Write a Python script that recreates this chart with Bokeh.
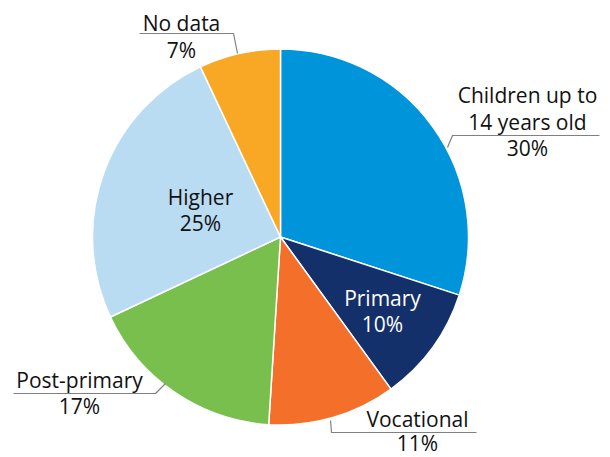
import numpy as np
from bokeh.plotting import figure
from bokeh.models import Range1d, ColumnDataSource
from bokeh.core.properties import value
from bokeh.embed import file_html
from bokeh.resources import INLINE

# ---- data ----
categories = ["Children up to 14 years old", "Primary", "Vocational", "Post-primary", "Higher", "No data"]
percents = [30, 10, 11, 17, 25, 7]
colors = ["#0095DA", "#14306B", "#F36F2A", "#78BF4E", "#BADCF3", "#F9A826"]

# label lines (text) per category
label_lines = [["Children up to", "14 years old"], ["Primary"], ["Vocational"], ["Post-primary"], ["Higher"], ["No data"]]

W, H = 610, 457
p = figure(width=W, height=H, output_backend="svg", toolbar_location=None,
           x_range=Range1d(0, W), y_range=Range1d(0, H), min_border=0)
p.axis.visible = False
p.grid.visible = False
p.outline_line_color = None
p.background_fill_color = "white"

def Y(py):
    return H - py

cx, cy, r = 280, Y(236.5), 188
vals = np.array(percents, dtype=float)
frac = vals / vals.sum()
ends = np.cumsum(frac) * 2 * np.pi
starts = ends - frac * 2 * np.pi
start_angle = np.pi / 2 - starts
end_angle = np.pi / 2 - ends

src = ColumnDataSource(dict(start=start_angle, end=end_angle, color=colors, cat=categories))
p.wedge(x=cx, y=cy, radius=r, start_angle="start", end_angle="end", direction="clock",
        fill_color="color", line_color="white", line_width=1.5, source=src)

# label positions (page coords: center x, baselines), text colors
label_base = [[102, 129, 155], [305, 331], [426, 450], [387, 413], [204, 230], [30, 57]]
label_x = [527, 382, 417, 79, 200, 181]
label_col = ["#111111", "#ffffff", "#111111", "#111111", "#111111", "#111111"]
text_shift = 8  # renderer places alphabetic baseline lower than requested

tx, ty, tt, tc = [], [], [], []
for lines, pct, x, bases, c in zip(label_lines, percents, label_x, label_base, label_col):
    allines = lines + [f"{pct}%"]
    for s, yy in zip(allines, bases):
        tx.append(x); ty.append(Y(yy - text_shift)); tt.append(s); tc.append(c)

p.text(x=tx, y=ty, text=tt, text_color=tc, text_align="center", text_baseline="alphabetic",
       text_font=value("Open Sans"), text_font_size="21px")

# leader lines (page coords)
leaders = [
    [(139, 33), (233, 33), (237, 53)],
    [(599, 135), (452, 135), (447, 147)],
    [(476, 432), (331, 432), (330, 420)],
    [(13, 393), (155, 393), (165, 383)],
]
p.multi_line(xs=[[a for a, b in L] for L in leaders], ys=[[Y(b) for a, b in L] for L in leaders],
             line_color="#808080", line_width=1.2)

open("out.html", "w").write(file_html(p, INLINE))
